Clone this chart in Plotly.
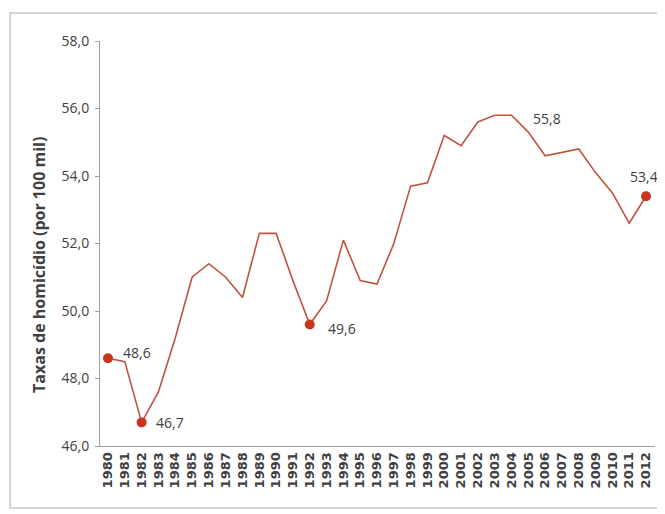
import plotly.graph_objects as go

years = list(range(1980, 2013))
rates = [48.6, 48.5, 46.7, 47.6, 49.2, 51.0, 51.4, 51.0, 50.4, 52.3,
         52.3, 50.9, 49.6, 50.3, 52.1, 50.9, 50.8, 52.0, 53.7, 53.8,
         55.2, 54.9, 55.6, 55.8, 55.8, 55.3, 54.6, 54.7, 54.8, 54.1,
         53.5, 52.6, 53.4]

# years that get a dot, and years that get a value label
dot_years = [1980, 1982, 1992, 2012]
label_years = [1980, 1982, 1992, 2004, 2012]
# label offsets (px) relative to the point
label_shift = {1980: (29, 6), 1982: (28, 0), 1992: (32, -4), 2004: (35, -3), 2012: (-2, 20)}

y_title = "Taxas de homicídio (por 100 mil)"

line_color = "#c0533f"
dot_color = "#c8341c"
text_color = "#404040"
font = "Open Sans"

fig = go.Figure()

fig.add_trace(go.Scatter(
    x=years, y=rates, mode="lines",
    line=dict(color=line_color, width=1.6),
    hoverinfo="skip", showlegend=False
))

fig.add_trace(go.Scatter(
    x=dot_years, y=[rates[years.index(y)] for y in dot_years],
    mode="markers",
    marker=dict(color=dot_color, size=10),
    showlegend=False
))

for yr in label_years:
    v = rates[years.index(yr)]
    dx, dy = label_shift[yr]
    fig.add_annotation(
        x=yr, y=v, text=f"{v:.1f}".replace(".", ","),
        showarrow=False, xshift=dx, yshift=dy,
        font=dict(family=font, size=14, color=text_color)
    )

# y title sits a bit below the middle of the axis, so place it by hand
fig.add_annotation(
    xref="paper", yref="paper", x=-0.11, y=0.447,
    text=f"<b>{y_title}</b>", textangle=-90, showarrow=False,
    xanchor="center", yanchor="middle",
    font=dict(family=font, size=16, color=text_color)
)

# light frame around the whole chart
fig.add_shape(type="rect", xref="paper", yref="paper",
              x0=-0.162, x1=1.1, y0=-0.153, y1=1.069,
              line=dict(color="#c8c8c8", width=1.5))

fig.update_xaxes(
    range=[1979.524, 2012.535],
    tickmode="array", tickvals=years,
    ticktext=[f"<b>{y}</b>" for y in years],
    tickangle=-90,
    tickfont=dict(family="DejaVu Sans", size=13, color=text_color),
    showgrid=False, zeroline=False,
    showline=True, linecolor="#a0a0a0", linewidth=1,
    ticks=""
)

fig.update_yaxes(
    range=[46, 58], tickmode="array",
    tickvals=[46, 48, 50, 52, 54, 56, 58],
    tickformat=".1f",
    tickfont=dict(family=font, size=14, color=text_color),
    showgrid=False, zeroline=False,
    showline=True, linecolor="#a0a0a0", linewidth=1,
    ticks="outside", ticklen=4, tickcolor="#a0a0a0",
    ticklabelstandoff=3
)

# the page body adds an 8px offset, so the figure is 8px smaller and
# the left/top margins are reduced by the same amount
fig.update_layout(
    width=657, height=506,
    margin=dict(l=92, r=10, t=33, b=68),
    paper_bgcolor="white", plot_bgcolor="white",
    separators=",.",
    showlegend=False
)

fig.write_html("out.html")
